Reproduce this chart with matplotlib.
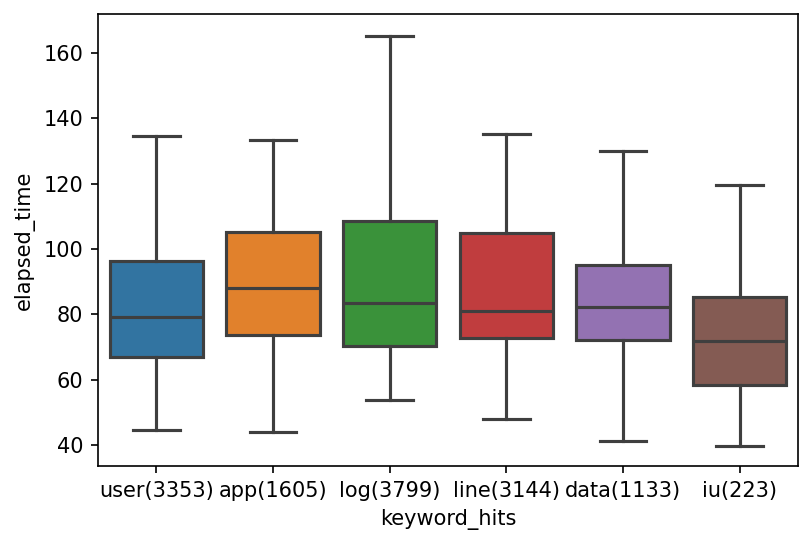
import matplotlib.pyplot as plt
import numpy as np

categories = ['user(3353)', 'app(1605)', 'log(3799)', 'line(3144)', 'data(1133)', 'iu(223)']
whislo = [44.4, 43.8, 53.6, 47.8, 41.3, 39.5]
q1 = [66.8, 73.6, 70.4, 72.6, 72.0, 58.2]
med = [79.2, 88.1, 83.3, 81.1, 82.3, 71.9]
q3 = [96.3, 105.1, 108.6, 104.9, 95.1, 85.3]
whishi = [134.7, 133.4, 165.2, 135.3, 130.1, 119.5]
colors = ['#3274a1', '#e1812c', '#3a923a', '#c03d3e', '#9372b2', '#845b53']

stats = []
for i, name in enumerate(categories):
    stats.append({'label': name, 'whislo': whislo[i], 'q1': q1[i], 'med': med[i],
                  'q3': q3[i], 'whishi': whishi[i], 'fliers': []})

fig = plt.figure(figsize=(811 / 150, 546 / 150), dpi=150)
ax = fig.add_axes([98 / 811, 1 - 466 / 546, 700 / 811, 452 / 546])

gray = '#3f3f3f'
lw = 1.5
bp = ax.bxp(stats, positions=np.arange(len(categories)), widths=0.8, patch_artist=True,
            showfliers=False,
            boxprops=dict(edgecolor=gray, linewidth=lw),
            medianprops=dict(color=gray, linewidth=lw),
            whiskerprops=dict(color=gray, linewidth=lw),
            capprops=dict(color=gray, linewidth=lw))
for patch, c in zip(bp['boxes'], colors):
    patch.set_facecolor(c)

ax.set_xlim(-0.5, len(categories) - 0.5)
ax.set_ylim(33.5, 172)
ax.set_yticks([40, 60, 80, 100, 120, 140, 160])
ax.set_xticks(np.arange(len(categories)))
ax.set_xticklabels(categories)
ax.set_xlabel('keyword_hits')
ax.set_ylabel('elapsed_time')

fig.savefig('out.png', dpi=150)
